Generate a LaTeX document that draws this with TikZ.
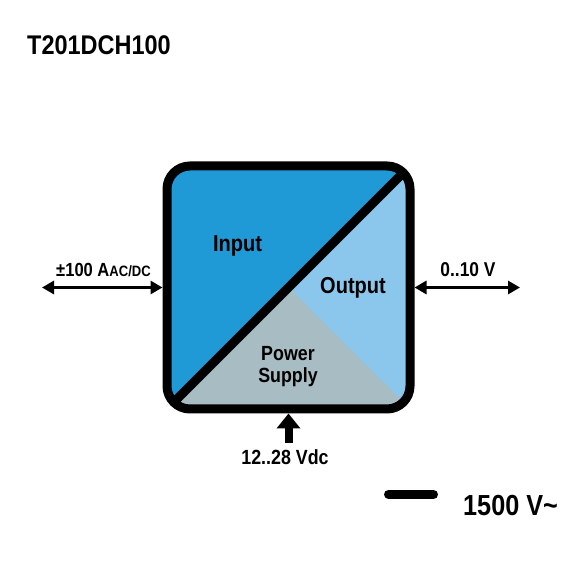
\documentclass[tikz,border=0pt]{standalone}
\usepackage{fontspec}
\setmainfont{Liberation Sans}[FakeStretch=0.87]
\usetikzlibrary{arrows.meta}
\definecolor{inblue}{HTML}{1F9AD6}
\definecolor{outblue}{HTML}{8BC7EC}
\definecolor{psgray}{HTML}{A8BCC3}
\tikzset{
  lbl/.style={inner sep=0pt, anchor=base, font=\bfseries},
  dblarrow/.style={line width=3.5pt, {Triangle[length=12pt,width=13pt]}-{Triangle[length=12pt,width=13pt]}},
  uparrow/.style={line width=8pt, -{Triangle[length=15pt,width=23pt]}},
  boxstyle/.style={draw, line width=9pt, rounded corners=23pt, minimum width=243pt, minimum height=243pt, inner sep=0pt}
}
\begin{document}
\begin{tikzpicture}[x=1pt,y=1pt]
\useasboundingbox (0,0) rectangle (575,575);
% filled regions
\begin{scope}
  \clip[rounded corners=23pt] (167,166) rectangle (410,409);
  \fill[inblue] (167,166) -- (167,409) -- (410,409) -- cycle;
  \fill[outblue] (167,166) -- (410,409) -- (410,166) -- cycle;
  \fill[psgray] (167,166) -- (288.5,287.5) -- (410,166) -- cycle;
  \draw[line width=9pt] (167,166) -- (410,409);
\end{scope}
\node[boxstyle] (box) at (288.5,287.5) {};
% texts
\node[inner sep=0pt, anchor=west, font=\bfseries\fontsize{27}{27}\selectfont] (title) at (27,530) {T201DCH100};
\node[lbl, font=\bfseries\fontsize{23}{23}\selectfont] (input) at (237.5,323.3) {Input};
\node[lbl, font=\bfseries\fontsize{23}{23}\selectfont] (output) at (353,281) {Output};
\node[lbl, font=\bfseries\fontsize{20.5}{20.5}\selectfont] (power) at (288,214.3) {Power};
\node[lbl, font=\bfseries\fontsize{20.5}{20.5}\selectfont] (supply) at (288,192) {Supply};
\node[lbl, font=\bfseries\fontsize{19}{19}\selectfont] (inlbl) at (103.5,298) {±100 A{\fontsize{15}{15}\selectfont AC/DC}};
\node[lbl, font=\bfseries\fontsize{20}{20}\selectfont] (outlbl) at (468,298) {0..10 V};
\node[lbl, font=\bfseries\fontsize{20.5}{20.5}\selectfont] (pslbl) at (285,110) {12..28 Vdc};
\node[inner sep=0pt, anchor=base west, font=\bfseries\fontsize{29}{29}\selectfont] (isolbl) at (463,59.3) {1500 V\textasciitilde};
% connectors
\coordinate (lin) at (42,287.5);
\coordinate (rout) at (520,287.5);
\coordinate (psin) at (288.5,132);
\draw[dblarrow] (lin) -- (box.west);
\draw[dblarrow] (box.east) -- (rout);
\draw[uparrow] (psin) -- (box.south);
% isolation dash
\coordinate (dashL) at (388.5,80.5);
\coordinate (dashR) at (433.5,80.5);
\draw[line width=9pt, line cap=round] (dashL) -- (dashR);
\end{tikzpicture}
\end{document}
